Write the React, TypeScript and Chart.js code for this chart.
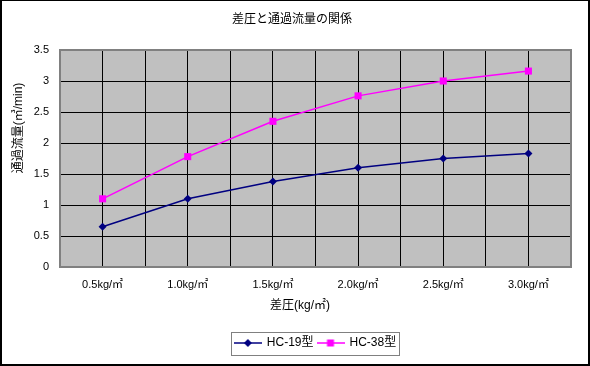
import React, { useEffect, useRef } from "react";
import { Chart, registerables } from "chart.js";

Chart.register(...registerables);

const chartTitle = "差圧と通過流量の関係";
const xAxisTitle = "差圧(kg/㎡)";
const yAxisTitle = "通過流量(㎥/min)";
const categories = ["0.5kg/㎡", "1.0kg/㎡", "1.5kg/㎡", "2.0kg/㎡", "2.5kg/㎡", "3.0kg/㎡"];
const seriesNames = ["HC-19型", "HC-38型"];
const hc19 = [0.65, 1.1, 1.38, 1.6, 1.75, 1.83];
const hc38 = [1.1, 1.78, 2.35, 2.76, 3.0, 3.16];
const yTicks = { min: 0, max: 3.5, step: 0.5 };

const FONT = '"Liberation Sans", "Noto Sans CJK JP", sans-serif';
const NAVY = "#000080";
const MAGENTA = "#FF00FF";

function makeLegendIcon(color: string, style: "diamond" | "square") {
  const c = document.createElement("canvas");
  c.width = 28;
  c.height = 10;
  const ctx = c.getContext("2d")!;
  ctx.strokeStyle = color;
  ctx.lineWidth = 1.5;
  ctx.beginPath();
  ctx.moveTo(0, 5);
  ctx.lineTo(28, 5);
  ctx.stroke();
  ctx.fillStyle = color;
  if (style === "diamond") {
    ctx.beginPath();
    ctx.moveTo(14, 1);
    ctx.lineTo(18, 5);
    ctx.lineTo(14, 9);
    ctx.lineTo(10, 5);
    ctx.closePath();
    ctx.fill();
  } else {
    ctx.fillRect(10.5, 1.5, 7, 7);
  }
  return c;
}

export default function App() {
  const ref = useRef<HTMLCanvasElement>(null);

  useEffect(() => {
    document.body.style.margin = "0";
    const canvas = ref.current!;
    const icons = [makeLegendIcon(NAVY, "diamond"), makeLegendIcon(MAGENTA, "square")];

    const decor = {
      id: "decor",
      beforeDraw(chart: any) {
        const { ctx, chartArea: a } = chart;
        ctx.save();
        ctx.fillStyle = "#ffffff";
        ctx.fillRect(0, 0, chart.width, chart.height);
        ctx.fillStyle = "#C0C0C0";
        ctx.fillRect(a.left, a.top, a.right - a.left, a.bottom - a.top);
        ctx.restore();
      },
      beforeDatasetsDraw(chart: any) {
        const { ctx, chartArea: a } = chart;
        ctx.save();
        ctx.strokeStyle = "#808080";
        ctx.lineWidth = 2;
        ctx.strokeRect(a.left, a.top, a.right - a.left, a.bottom - a.top);
        ctx.restore();
      },
      afterDraw(chart: any) {
        const { ctx } = chart;
        ctx.save();
        ctx.fillStyle = "#000";
        ctx.textAlign = "center";
        ctx.textBaseline = "middle";
        ctx.font = `12px ${FONT}`;
        ctx.fillText(chartTitle, 292, 20);
        ctx.fillText(xAxisTitle, 300, 306);
        ctx.save();
        ctx.translate(19, 128);
        ctx.rotate(-Math.PI / 2);
        ctx.fillText(yAxisTitle, 0, 0);
        ctx.restore();
        // legend frame
        const hb = chart.legend?.legendHitBoxes;
        if (hb && hb.length) {
          const first = hb[0];
          const last = hb[hb.length - 1];
          const l = Math.round(first.left) - 3.5;
          const r = Math.round(last.left + last.width) + 3.5;
          const cy = first.top + first.height / 2;
          const t = Math.round(cy - 11) + 0.5;
          const b = Math.round(cy + 12) + 0.5;
          ctx.strokeStyle = "#808080";
          ctx.lineWidth = 1;
          ctx.strokeRect(l, t, r - l, b - t);
        }
        // outer frame
        ctx.fillStyle = "#000";
        ctx.fillRect(0, 0, chart.width, 1);
        ctx.fillRect(0, 0, 2, chart.height);
        ctx.fillRect(chart.width - 2, 0, 2, chart.height);
        ctx.fillRect(0, chart.height - 2, chart.width, 2);
        ctx.restore();
      },
    };

    const chart = new Chart(canvas, {
      type: "line",
      data: {
        datasets: [
          {
            label: seriesNames[0],
            data: hc19.map((v, i) => ({ x: i + 0.5, y: v })),
            borderColor: NAVY,
            backgroundColor: NAVY,
            borderWidth: 1.5,
            pointStyle: "rectRot",
            pointRadius: 4,
            pointBorderWidth: 0,
            tension: 0,
          },
          {
            label: seriesNames[1],
            data: hc38.map((v, i) => ({ x: i + 0.5, y: v })),
            borderColor: MAGENTA,
            backgroundColor: MAGENTA,
            borderWidth: 1.5,
            pointStyle: "rect",
            pointRadius: 5,
            pointBorderWidth: 0,
            tension: 0,
          },
        ],
      },
      options: {
        responsive: false,
        animation: false,
        devicePixelRatio: 1,
        layout: { padding: { top: 50, right: 19, bottom: 7, left: 0 } },
        scales: {
          x: {
            type: "linear",
            min: 0,
            max: categories.length,
            afterBuildTicks(scale: any) {
              const t = [];
              for (let i = 0; i <= categories.length * 2; i++) t.push({ value: i * 0.5 });
              scale.ticks = t;
            },
            afterFit(scale: any) {
              scale.height = 66;
            },
            grid: { color: "#000", lineWidth: 1, drawTicks: false },
            border: { display: false },
            ticks: {
              autoSkip: false,
              maxRotation: 0,
              padding: 11,
              color: "#000",
              font: { family: FONT, size: 11 },
              callback(value: any, index: number) {
                return index % 2 === 1 ? categories[(index - 1) / 2] : "";
              },
            },
          },
          y: {
            min: yTicks.min,
            max: yTicks.max,
            afterFit(scale: any) {
              scale.width = 60;
            },
            grid: { color: "#000", lineWidth: 1, drawTicks: false },
            border: { display: false },
            ticks: {
              stepSize: yTicks.step,
              padding: 11,
              color: "#000",
              font: { family: FONT, size: 11 },
              callback(value: any) {
                return String(Number(value));
              },
            },
          },
        },
        plugins: {
          title: { display: false },
          tooltip: { enabled: false },
          legend: {
            display: true,
            position: "bottom",
            fullSize: false,
            labels: {
              usePointStyle: true,
              pointStyleWidth: 26,
              padding: 4,
              color: "#000",
              font: { family: FONT, size: 12 },
              generateLabels(ch: any) {
                const items = Chart.defaults.plugins.legend.labels.generateLabels(ch);
                return items.map((it: any, i: number) => ({ ...it, pointStyle: icons[i] }));
              },
            },
          },
        },
      },
      plugins: [decor],
    } as any);

    return () => chart.destroy();
  }, []);

  return <canvas ref={ref} width={590} height={366} style={{ display: "block" }} />;
}
